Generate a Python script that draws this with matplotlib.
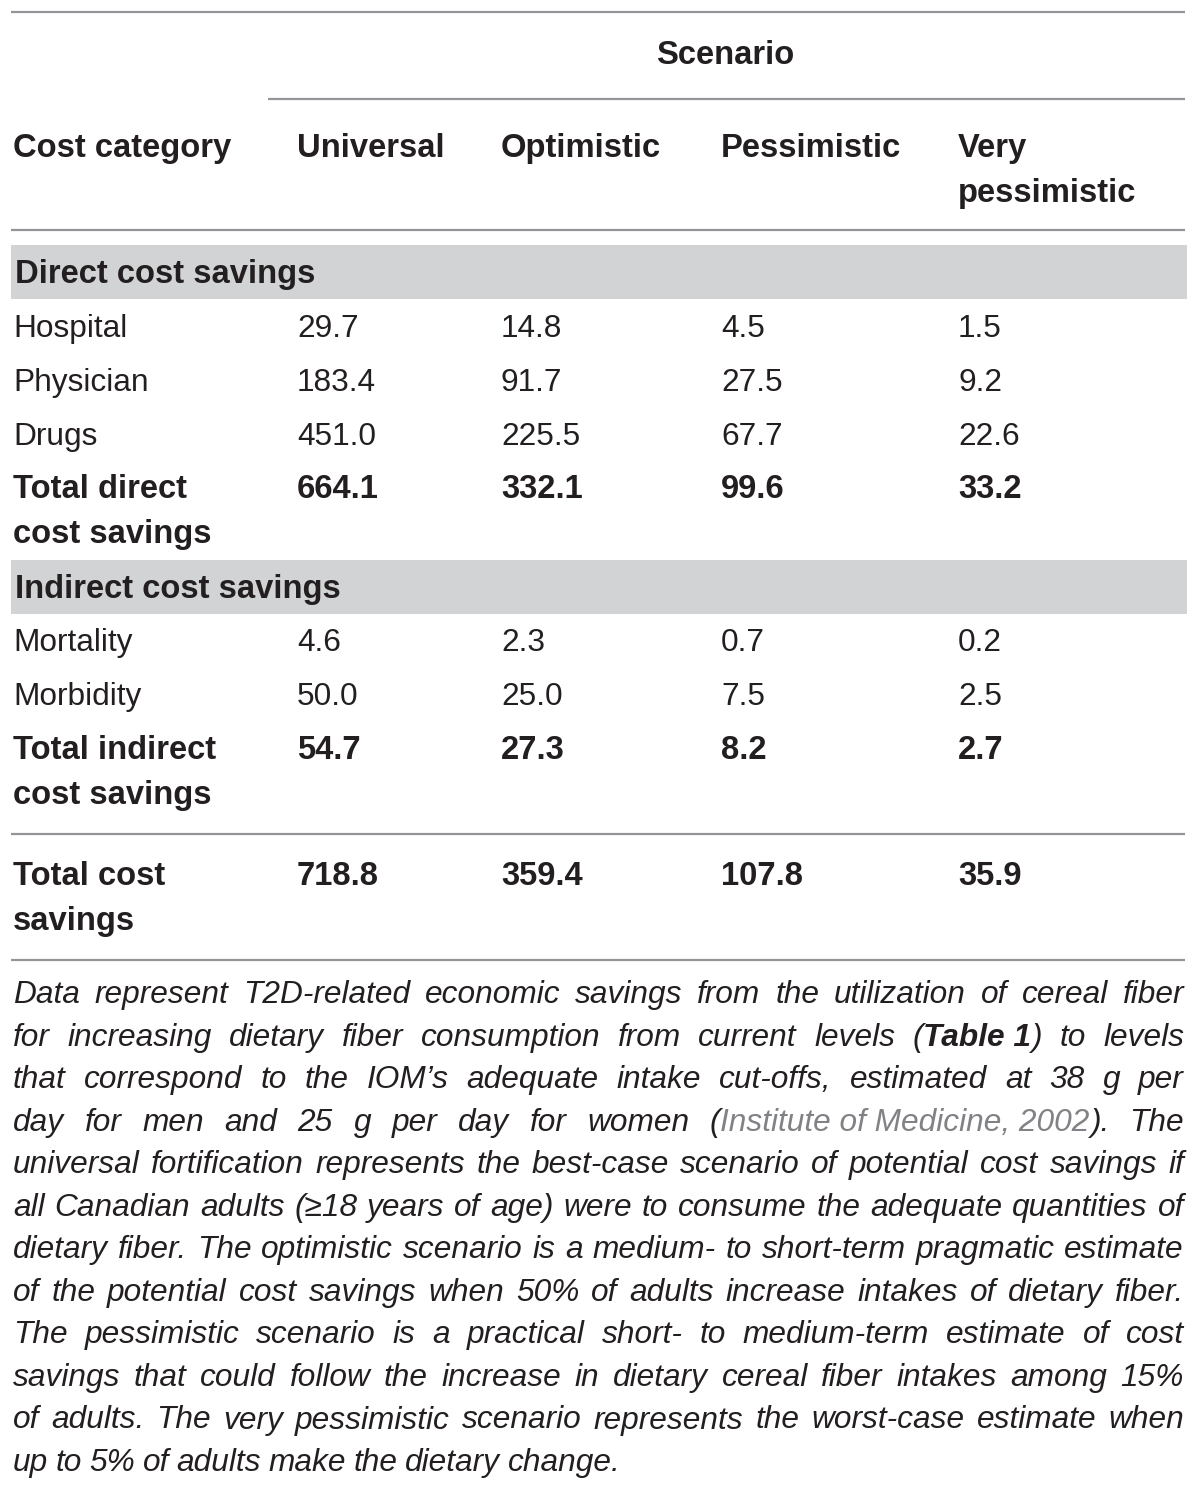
import numpy as np
import matplotlib
matplotlib.use('Agg')
import matplotlib.pyplot as plt

# table content
scenarios = ['Universal', 'Optimistic', 'Pessimistic', 'Very\npessimistic']
direct_rows = ['Hospital', 'Physician', 'Drugs']
direct_vals = [[29.7, 14.8, 4.5, 1.5],
               [183.4, 91.7, 27.5, 9.2],
               [451.0, 225.5, 67.7, 22.6]]
direct_total = [664.1, 332.1, 99.6, 33.2]
indirect_rows = ['Mortality', 'Morbidity']
indirect_vals = [[4.6, 2.3, 0.7, 0.2],
                 [50.0, 25.0, 7.5, 2.5]]
indirect_total = [54.7, 27.3, 8.2, 2.7]
grand_total = [718.8, 359.4, 107.8, 35.9]

# caption, line by line; [b]..[/b] bold, [g]..[/g] grey reference
caption = [
    "Data represent T2D-related economic savings from the utilization of cereal fiber",
    "for increasing dietary fiber consumption from current levels ([b]Table 1[/b]) to levels",
    "that correspond to the IOM\u2019s adequate intake cut-offs, estimated at 38 g per",
    "day for men and 25 g per day for women ([g]Institute of Medicine, 2002[/g]). The",
    "universal fortification represents the best-case scenario of potential cost savings if",
    "all Canadian adults (\u226518 years of age) were to consume the adequate quantities of",
    "dietary fiber. The optimistic scenario is a medium- to short-term pragmatic estimate",
    "of the potential cost savings when 50% of adults increase intakes of dietary fiber.",
    "The pessimistic scenario is a practical short- to medium-term estimate of cost",
    "savings that could follow the increase in dietary cereal fiber intakes among 15%",
    "of adults. The very pessimistic scenario represents the worst-case estimate when",
    "up to 5% of adults make the dietary change.",
]

FONT = 'Liberation Sans'
TXT = '#231f20'
RULE = '#939598'
BAND = '#d1d3d4'
LINK = '#808285'
fs = 22.8
fsb = 23.6
LS = 45  # line step inside a cell, px

fig = plt.figure(figsize=(12, 14.91), dpi=100)
ax = fig.add_axes([0, 0, 1, 1])
ax.set_xlim(0, 1200)
ax.set_ylim(1491, 0)
ax.axis('off')

colx = [297, 501, 721, 958]
left = 13
right = 1184


def rule(y, x0=11, x1=1185):
    ax.plot([x0, x1], [y, y], color=RULE, lw=1.6, solid_capstyle='butt')


def band(y0, y1):
    ax.fill_between([11, 1187], y0, y1, color=BAND, lw=0)


def put(x, y, s, bold=False):
    for k, part in enumerate(s.split('\n')):
        ax.text(x, y + k * LS, part, fontfamily=FONT, fontsize=fsb if bold else fs,
                fontweight='bold' if bold else 'normal', color=TXT,
                va='baseline', ha='left')


# rules and bands
rule(12)
rule(99, 268, 1185)
rule(230)
band(245, 299)
band(560, 614)
rule(834)
rule(960)

# header
put(656, 64, 'Scenario', bold=True)
put(left, 157, 'Cost category', bold=True)
for x, s in zip(colx, scenarios):
    put(x, 157, s, bold=True)

# direct section
put(15, 283, 'Direct cost savings', bold=True)
ys = [337, 391, 445]
for name, vals, y in zip(direct_rows, direct_vals, ys):
    put(left, y, name)
    for x, v in zip(colx, vals):
        put(x, y, f'{v:.1f}')
put(left, 498, 'Total direct\ncost savings', bold=True)
for x, v in zip(colx, direct_total):
    put(x, 498, f'{v:.1f}', bold=True)

# indirect section
put(15, 598, 'Indirect cost savings', bold=True)
ys = [651, 705]
for name, vals, y in zip(indirect_rows, indirect_vals, ys):
    put(left, y, name)
    for x, v in zip(colx, vals):
        put(x, y, f'{v:.1f}')
put(left, 759, 'Total indirect\ncost savings', bold=True)
for x, v in zip(colx, indirect_total):
    put(x, 759, f'{v:.1f}', bold=True)

# grand total
put(left, 885, 'Total cost\nsavings', bold=True)
for x, v in zip(colx, grand_total):
    put(x, 885, f'{v:.1f}', bold=True)


# caption (justified)
def split_line(line):
    # returns list of words, each word a list of (text, style)
    words = []
    style = 'i'
    cur = []
    buf = ''
    i = 0
    while i < len(line):
        for tag, st in (('[b]', 'b'), ('[/b]', 'i'), ('[g]', 'g'), ('[/g]', 'i')):
            if line.startswith(tag, i):
                if buf:
                    cur.append((buf, style))
                    buf = ''
                style = st
                i += len(tag)
                break
        else:
            c = line[i]
            if c == ' ' and style == 'i':
                if buf:
                    cur.append((buf, style))
                    buf = ''
                if cur:
                    words.append(cur)
                cur = []
            else:
                buf += c
            i += 1
    if buf:
        cur.append((buf, style))
    if cur:
        words.append(cur)
    return words


def style_kw(st):
    kw = dict(fontfamily=FONT, fontsize=fs, fontstyle='italic', color=TXT)
    if st == 'b':
        kw['fontweight'] = 'bold'
    if st == 'g':
        kw['color'] = LINK
    return kw


fig.canvas.draw()
renderer = fig.canvas.get_renderer()
inv = ax.transData.inverted()


def width_of(t):
    bb = t.get_window_extent(renderer)
    p0 = inv.transform((bb.x0, bb.y0))
    p1 = inv.transform((bb.x1, bb.y0))
    return p1[0] - p0[0]


y0 = 1003
step = 42.55
for n, line in enumerate(caption):
    y = y0 + n * step
    words = split_line(line)
    arts = []
    widths = []
    for w in words:
        parts = []
        ww = 0
        for s, st in w:
            t = ax.text(0, y, s, va='baseline', ha='left', **style_kw(st))
            wd = width_of(t)
            parts.append((t, wd))
            ww += wd
        arts.append(parts)
        widths.append(ww)
    if n == len(caption) - 1:
        gap = 7.5
    else:
        gap = (right - left - sum(widths)) / (len(words) - 1)
    x = left
    for parts, ww in zip(arts, widths):
        xx = x
        for t, wd in parts:
            t.set_x(xx)
            xx += wd
        x += ww + gap

fig.savefig('out.png', dpi=100, facecolor='white')
